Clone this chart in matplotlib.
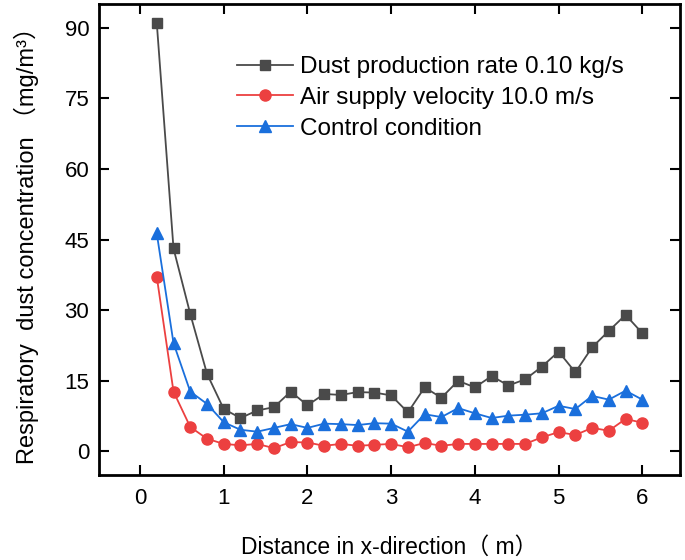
import numpy as np
import matplotlib.pyplot as plt

plt.rcParams['font.family'] = ['Liberation Sans', 'Noto Sans CJK SC', 'DejaVu Sans']

distance = [0.2, 0.4, 0.6, 0.8, 1.0, 1.2, 1.4, 1.6, 1.8, 2.0,
            2.2, 2.4, 2.6, 2.8, 3.0, 3.2, 3.4, 3.6, 3.8, 4.0,
            4.2, 4.4, 4.6, 4.8, 5.0, 5.2, 5.4, 5.6, 5.8, 6.0]

dust_rate = [91.0, 43.1, 29.2, 16.5, 9.0, 7.1, 8.7, 9.4, 12.7, 9.8,
             12.2, 12.0, 12.6, 12.5, 11.9, 8.3, 13.6, 11.4, 15.0, 13.6,
             16.0, 14.0, 15.3, 18.0, 21.2, 16.8, 22.1, 25.6, 29.0, 25.1]

air_supply = [37.1, 12.7, 5.2, 2.7, 1.6, 1.3, 1.6, 0.7, 2.0, 1.9,
              1.2, 1.6, 1.2, 1.4, 1.6, 0.9, 1.8, 1.2, 1.6, 1.6,
              1.6, 1.6, 1.6, 3.0, 4.1, 3.5, 5.0, 4.4, 6.9, 6.1]

control = [46.3, 23.0, 12.7, 10.1, 6.2, 4.6, 4.2, 5.0, 5.8, 5.0,
           5.9, 5.8, 5.6, 6.0, 5.9, 4.2, 7.9, 7.3, 9.2, 8.1,
           7.1, 7.6, 7.8, 8.1, 9.7, 9.0, 11.8, 11.0, 12.9, 11.0]

labels = ["Dust production rate 0.10 kg/s",
          "Air supply velocity 10.0 m/s",
          "Control condition"]

fig = plt.figure(figsize=(6.85, 5.6), dpi=100)
# axes box in pixels: left 99, right 680, top 4, bottom 475
ax = fig.add_axes([99 / 685, 85 / 560, 581 / 685, 471 / 560])

ax.plot(distance, dust_rate, color="#4a4a4a", lw=1.3, marker="s", ms=7.5, label=labels[0])
ax.plot(distance, air_supply, color="#ec4040", lw=1.3, marker="o", ms=8, label=labels[1])
ax.plot(distance, control, color="#1a6fdc", lw=1.3, marker="^", ms=9, label=labels[2])

ax.set_xlim(-0.49, 6.45)
ax.set_ylim(-5, 95)
ax.set_xticks(range(0, 7))
ax.set_yticks(np.arange(0, 91, 15))
ax.tick_params(direction="in", length=7, width=1.5, labelsize=16,
               top=True, right=True)
ax.tick_params(axis="x", pad=9)
ax.tick_params(axis="y", pad=7)
for s in ax.spines.values():
    s.set_linewidth(2)

ax.set_xlabel("Distance in x-direction（ m）", fontsize=16.5, labelpad=20)
ax.set_ylabel("Respiratory  dust concentration （mg/m³）", fontsize=17, labelpad=18)

ax.legend(loc="upper left", bbox_to_anchor=(237 / 685, 1 - 56 / 560),
          bbox_transform=fig.transFigure, frameon=False,
          fontsize=17.5, handlelength=2.3, handletextpad=0.3, labelspacing=0.36,
          borderaxespad=0, borderpad=0)

fig.savefig("out.png", dpi=100)
